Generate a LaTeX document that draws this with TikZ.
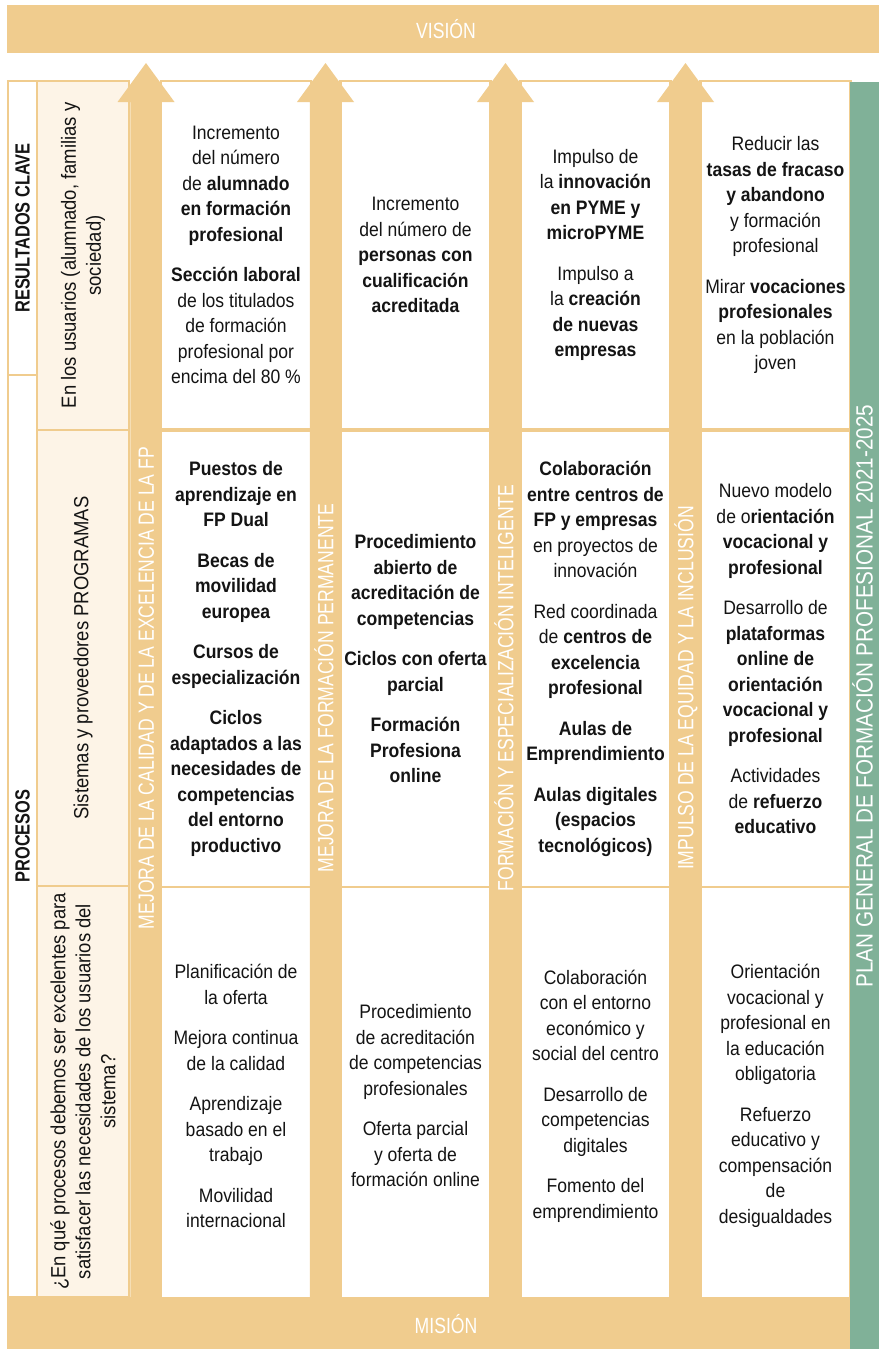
\documentclass[tikz,border=0pt]{standalone}
\usepackage{fontspec}
\setmainfont{Liberation Sans}[FakeStretch=0.9]
\newfontfamily\condfont{Liberation Sans}[FakeStretch=0.8]
\newfontfamily\planfont{Liberation Sans}[FakeStretch=0.88]
\definecolor{sand}{HTML}{F0CC8E}
\definecolor{cream}{HTML}{FDF4E7}
\definecolor{sage}{HTML}{80B198}
\definecolor{ink}{HTML}{141414}

\begin{document}
\begin{tikzpicture}[
        x=1pt, y=-1pt,
        cell/.style={rectangle, draw=sand, line width=2.5pt, fill=white, align=center, text=ink, inner sep=0pt, minimum width=150, font=\fontsize{19.5}{25.5}\selectfont},
        bcell/.style={cell, font=\fontsize{19.5}{25.5}\selectfont\bfseries},
        rowa/.style={minimum height=348},
        rowb/.style={minimum height=456},
        rowc/.style={minimum height=418},
        sidehead/.style={rectangle, draw=sand, line width=2pt, fill=white, rotate=90, text=ink, inner sep=0pt, minimum height=29, font=\condfont\fontsize{20.5}{25}\selectfont\bfseries},
        sidebox/.style={rectangle, draw=sand, line width=2pt, fill=cream, rotate=90, align=center, text=ink, inner sep=0pt, minimum height=92, font=\fontsize{20.5}{25}\selectfont},
        axislabel/.style={rotate=90, anchor=base, text=white, inner sep=0pt, font=\condfont\fontsize{22}{26}\selectfont},
        bandtext/.style={anchor=base, text=white, inner sep=0pt, font=\condfont\fontsize{22}{26}\selectfont}
    ]
        \useasboundingbox (0,0) rectangle (879,1349);

        % vision band
        \fill[sand] (7,5) rectangle (879,53);
        \node[bandtext] (vision) at (446,38) {VISIÓN};

        % results row
        \node[cell, rowa] (r1c1) at (236,255) {Incremento\\del número\\de \textbf{alumnado}\\\textbf{en formación}\\\textbf{profesional}\\[15pt]\textbf{Sección laboral}\\de los titulados\\de formación\\profesional por\\encima del 80~\%};
        \node[cell, rowa] (r1c2) at (415.5,255) {Incremento\\del número de\\\textbf{personas con}\\\textbf{cualificación}\\\textbf{acreditada}};
        \node[cell, rowa] (r1c3) at (595.5,255) {Impulso de\\la \textbf{innovación}\\\textbf{en PYME y}\\\textbf{microPYME}\\[15pt]Impulso a\\la \textbf{creación}\\\textbf{de nuevas}\\\textbf{empresas}};
        \node[cell, rowa] (r1c4) at (775.5,255) {Reducir las\\\textbf{tasas de fracaso}\\\textbf{y abandono}\\y formación\\profesional\\[15pt]Mirar \textbf{vocaciones}\\\textbf{profesionales}\\en la población\\joven};

        % programmes row
        \node[bcell, rowb] (r2c1) at (236,659) {Puestos de\\aprendizaje en\\FP Dual\\[15pt]Becas de\\movilidad\\europea\\[15pt]Cursos de\\especialización\\[15pt]Ciclos\\adaptados a las\\necesidades de\\competencias\\del entorno\\productivo};
        \node[bcell, rowb] (r2c2) at (415.5,659) {Procedimiento\\abierto de\\acreditación de\\competencias\\[15pt]Ciclos con oferta\\parcial\\[15pt]Formación\\Profesiona\\online};
        \node[cell, rowb] (r2c3) at (595.5,659) {\textbf{Colaboración}\\\textbf{entre centros de}\\\textbf{FP y empresas}\\en proyectos de\\innovación\\[15pt]Red coordinada\\de \textbf{centros de}\\\textbf{excelencia}\\\textbf{profesional}\\[15pt]\textbf{Aulas de}\\\textbf{Emprendimiento}\\[15pt]\textbf{Aulas digitales}\\\textbf{(espacios}\\\textbf{tecnológicos)}};
        \node[cell, rowb] (r2c4) at (775.5,659) {Nuevo modelo\\de o\textbf{rientación}\\\textbf{vocacional y}\\\textbf{profesional}\\[15pt]Desarrollo de\\\textbf{plataformas}\\\textbf{online de}\\\textbf{orientación}\\\textbf{vocacional y}\\\textbf{profesional}\\[15pt]Actividades\\de \textbf{refuerzo}\\\textbf{educativo}};

        % processes row
        \node[cell, rowc] (r3c1) at (236,1096) {Planificación de\\la oferta\\[15pt]Mejora continua\\de la calidad\\[15pt]Aprendizaje\\basado en el\\trabajo\\[15pt]Movilidad\\internacional};
        \node[cell, rowc] (r3c2) at (415.5,1096) {Procedimiento\\de acreditación\\de competencias\\profesionales\\[15pt]Oferta parcial\\y oferta de\\formación online};
        \node[cell, rowc] (r3c3) at (595.5,1096) {Colaboración\\con el entorno\\económico y\\social del centro\\[15pt]Desarrollo de\\competencias\\digitales\\[15pt]Fomento del\\emprendimiento};
        \node[cell, rowc] (r3c4) at (775.5,1096) {Orientación\\vocacional y\\profesional en\\la educación\\obligatoria\\[15pt]Refuerzo\\educativo y\\compensación\\de\\desigualdades};

        % left columns
        \node[sidehead, minimum width=294] (resclave) at (22.5,228) {RESULTADOS CLAVE};
        \node[sidehead, minimum width=922] (procesos) at (22.5,836) {PROCESOS};
        \node[sidebox, minimum width=349] (usuarios) at (83,255.5) {En los usuarios (alumnado, familias y\\sociedad)};
        \node[sidebox, minimum width=456] (sistemas) at (83,658) {Sistemas y proveedores PROGRAMAS};
        \node[sidebox, minimum width=411] (preguntas) at (83,1091.5) {¿En qué procesos debemos ser excelentes para\\satisfacer las necesidades de los usuarios del\\sistema?};

        % strategic axes
        \foreach \cx/\lbl [count=\i] in {146/MEJORA DE LA CALIDAD Y DE LA EXCELENCIA DE LA FP, 325.5/MEJORA DE LA FORMACIÓN PERMANENTE, 505.5/FORMACIÓN Y ESPECIALIZACIÓN INTELIGENTE, 685.5/IMPULSO DE LA EQUIDAD Y LA INCLUSIÓN} {
            \fill[sand] (\cx-15.75,1300) -- (\cx-15.75,102) -- (\cx-28.5,102) -- (\cx,63) -- (\cx+28.5,102) -- (\cx+15.75,102) -- (\cx+15.75,1300) -- cycle;
            \node[axislabel] (eje\i) at (\cx+7.9,688) {\lbl};
        }

        % mission band and plan bar
        \fill[sand] (7,1297) rectangle (850,1349);
        \node[bandtext] (mision) at (446,1333) {MISIÓN};
        \fill[sage] (850,82) rectangle (879,1349);
        \node[axislabel, font=\planfont\fontsize{23.5}{27}\selectfont] (plan) at (872.5,696) {PLAN GENERAL DE FORMACIÓN PROFESIONAL 2021-2025};
    \end{tikzpicture}
\end{document}
